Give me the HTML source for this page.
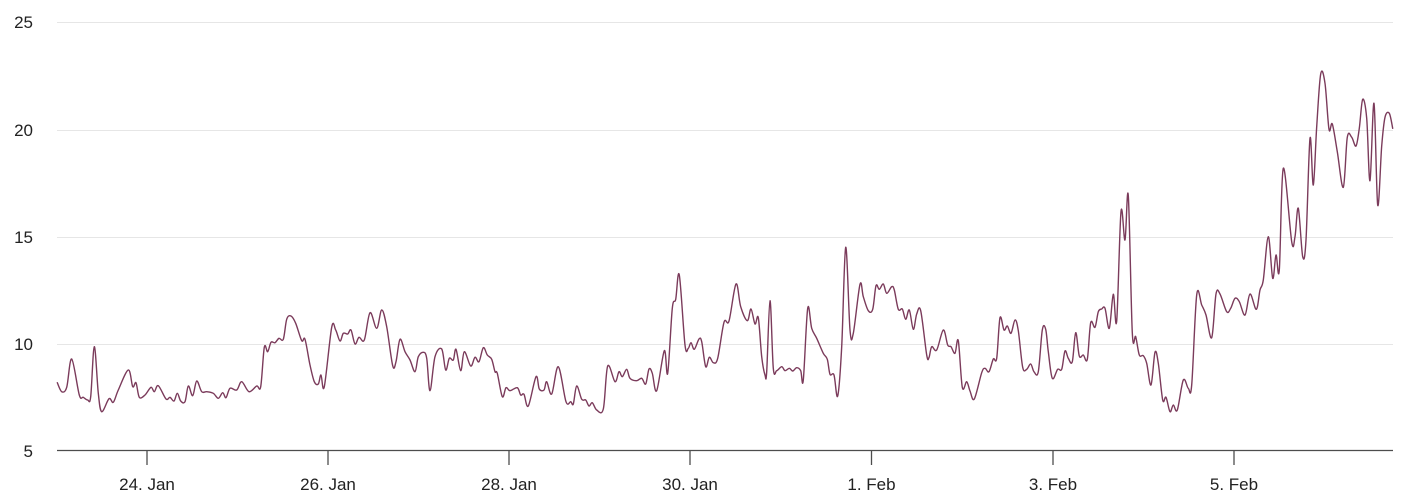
<!DOCTYPE html>
<html>
<head>
<meta charset="utf-8">
<style>
  html,body{margin:0;padding:0;background:#fff;}
  svg{display:block;}
  text{font-family:"Liberation Sans","DejaVu Sans",sans-serif;fill:#222;}
</style>
</head>
<body>
<svg width="1404" height="504" viewBox="0 0 1404 504" xmlns="http://www.w3.org/2000/svg">
  <rect width="1404" height="504" fill="#fff"/>
  <!-- grid -->
  <g stroke="#e6e6e6" stroke-width="1">
    <line x1="57" y1="22.5" x2="1393" y2="22.5"/>
    <line x1="57" y1="130.5" x2="1393" y2="130.5"/>
    <line x1="57" y1="237.5" x2="1393" y2="237.5"/>
    <line x1="57" y1="344.5" x2="1393" y2="344.5"/>
  </g>
  <!-- x axis -->
  <line x1="57" y1="450.5" x2="1393" y2="450.5" stroke="#4d4d4d" stroke-width="1.3"/>
  <g stroke="#4d4d4d" stroke-width="1.3">
    <line x1="147" y1="450" x2="147" y2="465"/>
    <line x1="328" y1="450" x2="328" y2="465"/>
    <line x1="509" y1="450" x2="509" y2="465"/>
    <line x1="690" y1="450" x2="690" y2="465"/>
    <line x1="871.5" y1="450" x2="871.5" y2="465"/>
    <line x1="1053" y1="450" x2="1053" y2="465"/>
    <line x1="1234" y1="450" x2="1234" y2="465"/>
  </g>
  <!-- y labels -->
  <g font-size="17" text-anchor="end">
    <text x="33" y="28">25</text>
    <text x="33" y="136">20</text>
    <text x="33" y="243">15</text>
    <text x="33" y="350">10</text>
    <text x="33" y="457">5</text>
  </g>
  <!-- x labels -->
  <g font-size="17" text-anchor="middle">
    <text x="147" y="490">24. Jan</text>
    <text x="328" y="490">26. Jan</text>
    <text x="509" y="490">28. Jan</text>
    <text x="690" y="490">30. Jan</text>
    <text x="871.5" y="490">1. Feb</text>
    <text x="1053" y="490">3. Feb</text>
    <text x="1234" y="490">5. Feb</text>
  </g>
  <!-- series -->
  <polyline id="ser" fill="none" stroke="#7b3b5b" stroke-width="1.4" stroke-linejoin="round" stroke-linecap="round" points="
57.3,382.7 61.7,391.7 66.7,387.3 71.7,359 79.3,395 83.3,397.3 87.7,400 90.7,396.7 94.3,346.7 98.3,393.3 101.7,411.7 109,398.7 113.3,402.3 118.3,390 128.3,370 132.7,386.7 136,382.7 139.3,397.3 145,395 151,387.3 154.3,391.7 158.3,385.7 166,399 170,397.3 174,401 177.3,393.3 180.7,401 185,401.7 188.3,386 192.7,395.7 196.7,381 201.7,391.7 206.7,391.7 213.3,393.3 218.3,398.3 222.7,392.7 226,397.7 230,388.3 236.7,390 241.7,381.7 249,391.7 256.7,386 260.7,386.7 264.3,347.3 267.7,351.7 271,342.3 275,342.7 279,338.3 283.3,339.3 286.7,319.3 291,316 295.7,323.3 301.7,340.7 305,339.3 310,365 314.3,381.7 318.3,384 321,375 324.3,386.7 331.7,327.3 335.7,330 340,341 343.3,333.3 347.7,334 351,330 355,344 359,337.3 364.3,340 370,312.7 376.7,328.3 381.7,310 386.7,326.7 392.7,365.7 396,361.7 400,339.3 405,351.7 410,360 415,371.7 418.3,356.7 423.3,352.3 426.7,358.3 430,390.7 435,356.7 441.7,349 445.7,370 449.3,358.3 453.3,360 456,349.3 460.7,370.7 464.3,351.7 470.7,366 475,357.3 479,361.7 483.3,347.7 487.3,355 491.7,359.3 495,371.7 497.3,373.3 502.3,396.7 506,387.7 510,390.7 517.3,387.7 520.7,395 524,394.3 528.3,406 536,376.7 539.3,389 544,390 546.7,381.7 551.7,394 558.3,366.7 566,401.7 570.7,401.7 573.3,404 576.7,386 581.7,399.3 585.7,400 589,406 592.3,402.7 596.7,410 603.3,409 607.7,366 615,381.7 619,371.7 622.3,376.7 626.7,369.3 630,378.3 636.7,380.7 641.7,378.3 645.7,384 649,369 652.3,373.3 656.7,390.7 664.3,350.7 667.7,373.3 672.3,308.3 675.7,299.3 679.3,275 685,345 688.3,348.3 691,342.7 694.3,349.3 699,339 701.7,341.7 705.7,366.7 709.3,357.3 713.3,362.7 717.7,358.3 724,322.3 729,321 736,284 740.7,306.7 747.3,320.7 751,309 755,324 758.3,317.7 761.7,356.7 765,375 766.7,371.7 770,300.7 773.3,368.3 776.7,370.7 781.7,366.7 785,370.7 789.3,368.3 792.7,371 796.7,367.7 800.7,370.7 803.3,380 807.7,308.3 811.7,328.3 816.7,338.3 823.3,353.3 827.3,359.3 830,374.3 834,375 837.7,396 841.7,346.7 845.7,247.3 850,330 853.3,333.3 860,284.3 863.3,296.7 868.3,310.7 872.7,309.3 876,285.7 879.3,289.3 883.3,284 886.7,293.3 891.7,286.7 894.3,290 898.3,309.3 902.3,309 905.7,319.3 909.3,310 913.3,329.3 916.7,314 920.7,310.7 926.7,355 929,357.5 931.7,346.7 936.7,350 943.3,330 947.7,345 951,346.7 955,353.3 958.3,340.7 962.3,387.3 966.7,381.7 970,391 974.3,399 981.7,372.7 985,368.3 989,371.7 993.3,359 996.7,358.3 1000,317.7 1004,330 1007.3,326 1011,333.3 1015,320 1018.3,330.7 1022.7,367.3 1026.7,369.3 1030.7,364 1034,371.7 1038.3,371.7 1042.3,330 1045.7,329.3 1048.3,351.7 1052.3,378.3 1057.7,369.3 1061.7,369.3 1065,351 1068.3,358.3 1072.3,361.7 1075.7,332.7 1079.3,356 1083.3,355 1087.3,359.3 1090.7,322.7 1095,327.3 1098.3,311.7 1101.7,309 1105,308.3 1109.3,328.3 1113.3,294.3 1116.7,321 1121,211.7 1125,240 1128.3,195.7 1132.3,332.7 1135.7,336.7 1139.3,355 1143.3,355.7 1146.7,363.3 1151,385 1155,352.3 1158.3,363.3 1162.7,400 1166,397.3 1170,411.7 1173.3,405 1177.3,410 1183.3,380 1188.3,388.3 1191.7,385 1196.7,295 1201.7,305 1206,315 1211.7,337.7 1216,294 1220,294 1226.7,311.7 1230.7,308.3 1235,298.3 1239.3,301.7 1245,315 1250,294 1256.3,309.3 1260,290 1263.3,280 1268.3,236.7 1272.7,278.3 1276,255 1279.3,270 1283.3,168.3 1291.7,241.7 1295,236.7 1298.3,208.3 1302.7,256.7 1306,240 1310,138.3 1313.3,185 1316.7,126.7 1320.7,74 1325,83.3 1329,129.3 1332.3,124 1337.3,151.7 1343.3,187.3 1347.3,137.3 1351.7,137.3 1356,146 1359.3,128.3 1362.7,99.3 1366.7,118.3 1370,180.7 1374,103.3 1377.7,205 1381.7,146 1385,117.3 1389.3,113.3 1392.7,128.3"/>
</svg>
<script>
(function(){
  var pl=document.getElementById('ser');
  if(!pl) return;
  var raw=pl.getAttribute('points').trim().split(/\s+/).map(function(s){var a=s.split(',');return [parseFloat(a[0]),parseFloat(a[1])];});
  if(raw.length<3) return;
  var t=0.5/3*2; // catmull-rom factor (1/6 * 2 *0.5)
  var d='M'+raw[0][0]+','+raw[0][1];
  for(var i=0;i<raw.length-1;i++){
    var p0=raw[i>0?i-1:i],p1=raw[i],p2=raw[i+1],p3=raw[i+2<raw.length?i+2:i+1];
    var k=1/6;
    var c1x=p1[0]+(p2[0]-p0[0])*k, c1y=p1[1]+(p2[1]-p0[1])*k;
    var c2x=p2[0]-(p3[0]-p1[0])*k, c2y=p2[1]-(p3[1]-p1[1])*k;
    d+='C'+c1x.toFixed(2)+','+c1y.toFixed(2)+' '+c2x.toFixed(2)+','+c2y.toFixed(2)+' '+p2[0]+','+p2[1];
  }
  var ns='http://www.w3.org/2000/svg';
  var p=document.createElementNS(ns,'path');
  p.setAttribute('d',d);
  p.setAttribute('fill','none');
  p.setAttribute('stroke','#7b3b5b');
  p.setAttribute('stroke-width','1.4');
  p.setAttribute('stroke-linejoin','round');
  p.setAttribute('stroke-linecap','round');
  pl.parentNode.insertBefore(p,pl);
  pl.parentNode.removeChild(pl);
})();
</script>
</body>
</html>
